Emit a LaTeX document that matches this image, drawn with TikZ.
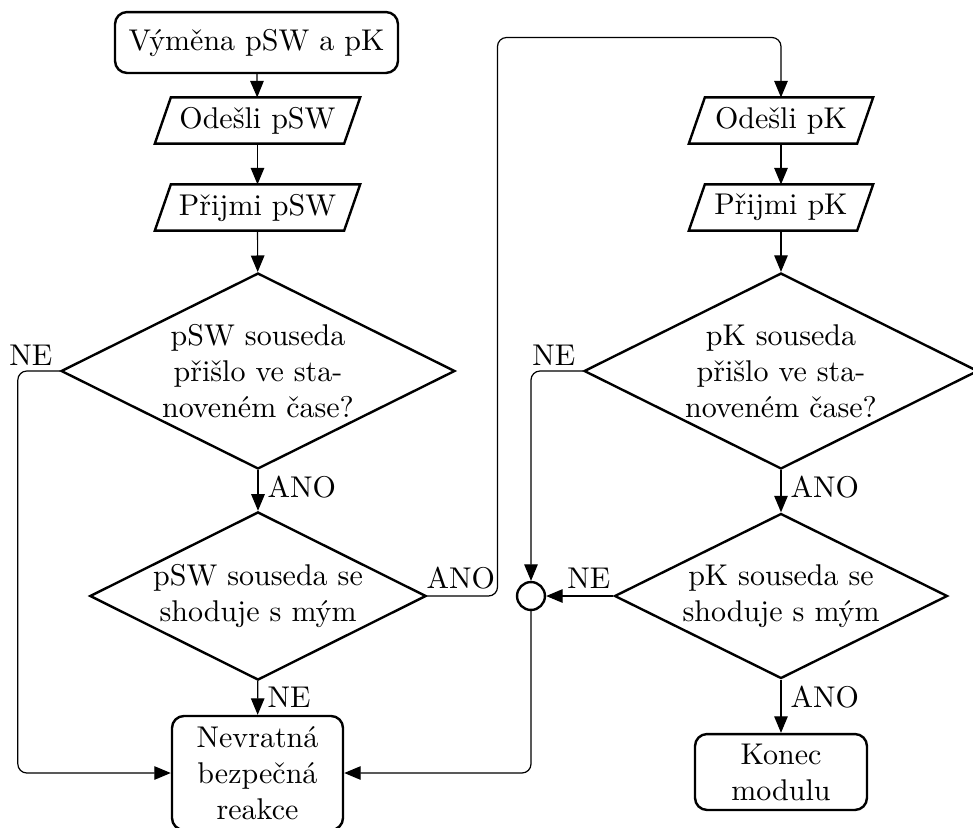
\documentclass[tikz,border=0pt]{standalone}
\usepackage{fontspec}
\usetikzlibrary{shapes.geometric,arrows.meta}
% outline of an input/output step: a parallelogram around the named node
\newcommand\ioframe[1]{%
  \draw[thick] ([xshift=-2.67pt]#1.south west) -- ([xshift=2.67pt]#1.north west)
    -- ([xshift=2.67pt]#1.north east) -- ([xshift=-2.67pt]#1.south east) -- cycle;}
\begin{document}
\begin{tikzpicture}[x=0.3333pt,y=-0.3333pt,
  box/.style={draw,thick,rounded corners=4pt,align=center,inner sep=0pt},
  io/.style={rectangle,inner sep=0pt,minimum height=15pt,minimum width=#1},
  decision/.style={draw,thick,diamond,aspect=2,inner sep=0pt,align=center},
  joint/.style={draw,thick,circle,minimum size=9.3pt,inner sep=0pt},
  flow/.style={-{Triangle[length=5.5pt,width=4.5pt]},rounded corners=3pt},
  lbl/.style={inner sep=0pt}
]
\useasboundingbox (0,0) rectangle (973,827);

% left column: pSW exchange
\node[box,minimum width=94.3pt,minimum height=20.3pt] (start) at (256.5,42.5) {Výměna pSW a pK};
\node[io=62.7pt] (sendsw) at (257.5,120.5) {Odešli pSW};
\node[io=62.7pt] (recvsw) at (257.5,207.5) {Přijmi pSW};
\node[decision,minimum width=131.3pt,minimum height=65.3pt] (dsw1) at (258,371)
  {pSW souseda\\přišlo ve sta-\\noveném čase?};
\node[decision,minimum width=111pt,minimum height=55pt] (dsw2) at (258,596)
  {pSW souseda se\\shoduje s mým};
\node[box,minimum width=57pt,minimum height=38pt] (fail) at (257.5,773)
  {Nevratná\\bezpečná\\reakce};

% right column: pK exchange
\node[io=55.7pt] (sendk) at (781,120.5) {Odešli pK};
\node[io=55.7pt] (recvk) at (781,207.5) {Přijmi pK};
\node[decision,minimum width=131.3pt,minimum height=65.3pt] (dk1) at (781,371)
  {pK souseda\\přišlo ve sta-\\noveném čase?};
\node[decision,minimum width=111pt,minimum height=55pt] (dk2) at (781,596)
  {pK souseda se\\shoduje s mým};
\node[box,minimum width=57.3pt,minimum height=25.3pt] (done) at (781,772)
  {Konec\\modulu};

\ioframe{sendsw}
\ioframe{recvsw}
\ioframe{sendk}
\ioframe{recvk}

% junction of the two failure branches
\node[joint] (join) at (531,596) {};

% main flow
\draw[flow] (start) -- (sendsw);
\draw[flow] (sendsw) -- (recvsw);
\draw[flow] (recvsw) -- (dsw1);
\draw[flow] (dsw1) -- (dsw2);
\draw[flow] (dsw2) -- (fail);
\draw[flow] (dsw1.west) -- ++(-42,0) |- (fail.west);
\draw[flow] (dsw2.east) -| (497.5,37.5) -| (sendk.north);
\draw[flow] (sendk) -- (recvk);
\draw[flow] (recvk) -- (dk1);
\draw[flow] (dk1) -- (dk2);
\draw[flow] (dk2) -- (done);
\draw[flow] (dk1.west) -| (join.north);
\draw[flow] (dk2.west) -- (join.east);
\draw[flow] (join.south) |- (fail.east);

% branch labels
\node[lbl,anchor=base east] (l1) at (53,365) {NE};
\node[lbl,anchor=base west] (l2) at (267,497) {ANO};
\node[lbl,anchor=base west] (l3) at (267,707) {NE};
\node[lbl,anchor=base west] (l4) at (426,588) {ANO};
\node[lbl,anchor=base east] (l5) at (576,365) {NE};
\node[lbl,anchor=base west] (l6) at (790,497) {ANO};
\node[lbl,anchor=base east] (l7) at (611,588) {NE};
\node[lbl,anchor=base west] (l8) at (790,707) {ANO};
\end{tikzpicture}
\end{document}
